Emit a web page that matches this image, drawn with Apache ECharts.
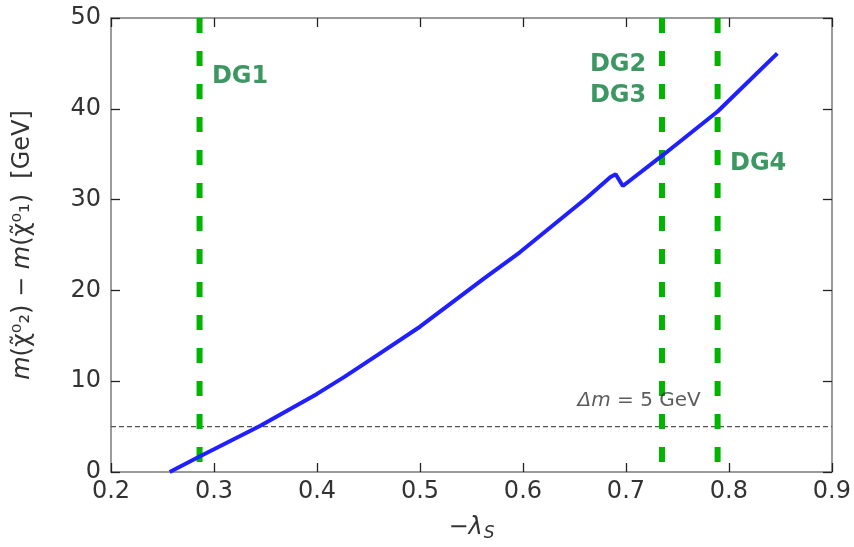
<!DOCTYPE html>
<html>
<head>
<meta charset="utf-8">
<script src="https://cdn.jsdelivr.net/npm/echarts@6/dist/echarts.min.js"></script>
<style>
  html, body { margin: 0; padding: 0; background: #fff; }
  #chart { width: 854px; height: 547px; }
</style>
</head>
<body>
<div id="chart"></div>
<script>
// mass splitting vs -lambda_S
const LAMBDA = [0.257, 0.286, 0.30, 0.345, 0.40, 0.427, 0.459, 0.50, 0.562, 0.597, 0.662, 0.685, 0.690, 0.697, 0.737, 0.789, 0.847];
const DELTA_M = [0.0, 1.7, 2.5, 5.1, 8.6, 10.5, 12.9, 16.0, 21.3, 24.2, 30.2, 32.5, 32.8, 31.5, 35.0, 39.7, 46.1];

// benchmark lines
const DG_X = [0.286, 0.735, 0.789];
const DG_LABELS = [
  { text: "DG1", x: 0.298, y: 43.5 },
  { text: "DG2", x: 0.665, y: 44.9 },
  { text: "DG3", x: 0.665, y: 41.4 },
  { text: "DG4", x: 0.801, y: 34.0 },
];
const THRESHOLD = 5;
const X_TICKS = [0.2, 0.3, 0.4, 0.5, 0.6, 0.7, 0.8, 0.9];
const Y_TICKS = [0, 10, 20, 30, 40, 50];

const FONT = "DejaVu Sans";
const FRAME = "#7a7a7a";
const GREEN_LINE = "#00b400";
const GREEN_TEXT = "#0b7d3b";

const chart = echarts.init(document.getElementById("chart"));

const axisCommon = {
  type: "value",
  axisLine: { show: true, onZero: false, lineStyle: { color: FRAME, width: 1.5 } },
  axisTick: { show: true, inside: true, length: 9, lineStyle: { color: "#222", width: 1.3 } },
  splitLine: { show: false },
};

const series = [];

// green vertical benchmark lines
DG_X.forEach((x) => {
  series.push({
    type: "line", symbol: "none", silent: true,
    data: [[x, 50], [x, 0]],
    lineStyle: { color: GREEN_LINE, width: 6, type: [15, 18] },
    z: 3,
  });
});

// horizontal 5 GeV threshold
series.push({
  type: "line", symbol: "none", silent: true,
  data: [[0.2, THRESHOLD], [0.9, THRESHOLD]],
  lineStyle: { color: "#555", width: 1.3, type: [5, 3] },
  z: 2,
});

// main curve
series.push({
  type: "line", symbol: "none",
  data: LAMBDA.map((x, i) => [x, DELTA_M[i]]),
  lineStyle: { color: "#1f1fff", width: 4 },
  z: 4,
});

// DG text labels
series.push({
  type: "scatter", symbolSize: 0, silent: true,
  data: DG_LABELS.map((d) => ({ value: [d.x, d.y], name: d.text })),
  label: {
    show: true, position: "right", distance: 0,
    formatter: (p) => p.name,
    fontFamily: FONT, fontWeight: "bold", fontSize: 24, color: GREEN_TEXT,
  },
  z: 5,
});

// threshold annotation
series.push({
  type: "scatter", symbolSize: 0, silent: true,
  data: [[0.653, 7.8]],
  label: {
    show: true, position: "right", distance: 0,
    formatter: "{i|Δm} = 5 GeV",
    fontFamily: FONT, fontSize: 20, color: "#333",
    rich: { i: { fontFamily: FONT, fontSize: 20, fontStyle: "italic", color: "#333" } },
  },
  z: 5,
});

chart.setOption({
  animation: false,
  backgroundColor: "#fff",
  grid: { left: 111, right: 17, top: 18, bottom: 73 },
  xAxis: [
    Object.assign({}, axisCommon, {
      position: "bottom", min: X_TICKS[0], max: X_TICKS[X_TICKS.length - 1], interval: 0.1,
      axisLabel: { fontFamily: FONT, fontSize: 24, color: "#333", margin: 8,
        formatter: (v) => v.toFixed(1) },
      name: "{m|−}{l|λ}{s|S}",
      nameLocation: "middle", nameGap: 42,
      nameTextStyle: {
        fontFamily: FONT, fontSize: 24, color: "#333",
        rich: {
          m: { fontFamily: FONT, fontSize: 24, color: "#333" },
          l: { fontFamily: FONT, fontSize: 24, fontStyle: "italic", color: "#333" },
          s: { fontFamily: FONT, fontSize: 17, fontStyle: "italic", color: "#333", padding: [11, 0, 0, 1] },
        },
      },
    }),
    Object.assign({}, axisCommon, {
      position: "top", min: 0.2, max: 0.9, interval: 0.1,
      axisLabel: { show: false },
    }),
  ],
  yAxis: [
    Object.assign({}, axisCommon, {
      position: "left", min: Y_TICKS[0], max: Y_TICKS[Y_TICKS.length - 1], interval: 10,
      axisLabel: { fontFamily: FONT, fontSize: 24, color: "#333", margin: 10 },
      name: "{i|m}(χ̃⁰₂) − {i|m}(χ̃⁰₁)  [GeV]",
      nameLocation: "middle", nameGap: 76, nameRotate: 90,
      nameTextStyle: {
        fontFamily: FONT, fontSize: 24, color: "#333",
        rich: { i: { fontFamily: FONT, fontSize: 24, fontStyle: "italic", color: "#333" } },
      },
    }),
    Object.assign({}, axisCommon, {
      position: "right", min: 0, max: 50, interval: 10,
      axisLabel: { show: false },
    }),
  ],
  series: series,
});
</script>
</body>
</html>
